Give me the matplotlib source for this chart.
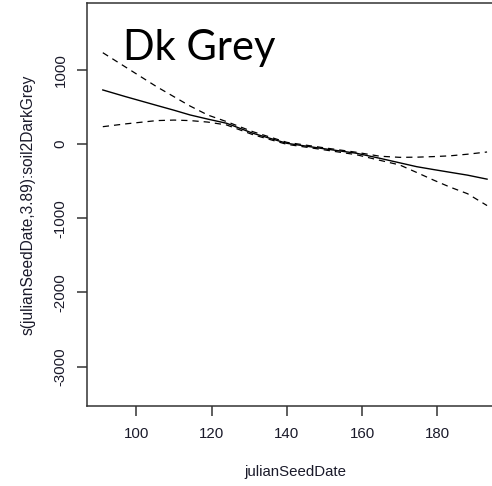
import matplotlib
matplotlib.use("Agg")
import matplotlib.pyplot as plt

plt.rcParams["axes.unicode_minus"] = False

# ---- data ----
x_vals = [91.1, 97, 105.4, 110, 114.3, 119, 124, 131, 140, 149, 158.5, 164.7,
          170, 174.5, 179, 183.3, 188, 193.2]
fit = [728, 640, 520, 455, 391, 335, 279, 144, 9, -58, -125, -193,
       -254, -306, -345, -381, -420, -474]
upper = [1230, 1041, 772, 637, 511, 390, 301, 165, 22, -45, -112, -165,
         -180, -178, -170, -160, -138, -108]
lower = [233, 270, 315, 322, 315, 295, 256, 125, -5, -72, -145, -220,
         -283, -384, -487, -580, -670, -830]
x_ticks = [100, 120, 140, 160, 180]
y_ticks = [1000, 0, -1000, -2000, -3000]
title_text = "Dk Grey"
x_label = "julianSeedDate"
y_label = "s(julianSeedDate,3.89):soil2DarkGrey"

W, H = 492, 486
fig = plt.figure(figsize=(W / 100, H / 100), dpi=100)
left_px, right_px, top_px, bottom_px = 87, 504, 3.5, 406
ax = fig.add_axes([left_px / W, (H - bottom_px) / H,
                   (right_px - left_px) / W, (bottom_px - top_px) / H])

ax.plot(x_vals, fit, color="black", lw=1.0)
ax.plot(x_vals, upper, color="black", lw=0.9, dashes=(5, 4))
ax.plot(x_vals, lower, color="black", lw=0.9, dashes=(5, 4))

ax.set_xlim(86.9, 197.7)
ax.set_ylim(-3531, 1893)
ax.set_xticks(x_ticks)
ax.set_yticks(y_ticks)
ax.set_xticklabels([str(v) for v in x_ticks])
ax.set_yticklabels([str(v) for v in y_ticks])

for s in ax.spines.values():
    s.set_color("#333333")
    s.set_linewidth(1.1)

fam = ["Liberation Sans", "DejaVu Sans"]
ax.tick_params(axis="both", direction="out", length=7, width=1.1,
               color="#333333", labelcolor="#1a1a2a")
ax.tick_params(axis="x", pad=8)
ax.tick_params(axis="y", pad=7, labelrotation=90)
for lab in ax.get_xticklabels() + ax.get_yticklabels():
    lab.set_fontfamily(fam)
    lab.set_fontsize(10.8)
for lab in ax.get_yticklabels():
    lab.set_va("center")

fig.text(295.5 / W, (H - 471.7) / H, x_label, ha="center", va="center",
         family=fam, size=10.8, color="#1a1a2a")
fig.text(28 / W, (H - 205) / H, y_label, ha="center", va="center", rotation=90,
         family=fam, size=11.2, color="#1a1a2a")

fig.text(123 / W, (H - 60) / H, title_text, ha="left", va="baseline",
         family=["Lato", "DejaVu Sans"], size=30, color="black")

fig.savefig("out.png", dpi=100)
